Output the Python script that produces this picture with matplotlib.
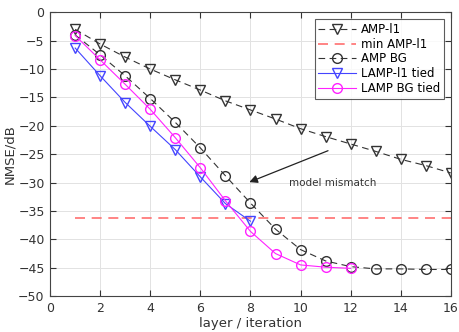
import matplotlib
matplotlib.use("Agg")
import matplotlib.pyplot as plt

amp_l1_x = list(range(1, 17))
amp_l1 = [-3.0, -5.6, -7.9, -10.0, -11.9, -13.7, -15.6, -17.2, -18.8, -20.5, -21.9, -23.2, -24.5, -25.9, -27.0, -28.3]
min_amp_l1_x = [1, 16]
min_amp_l1 = [-36.3, -36.3]
amp_bg_x = list(range(1, 17))
amp_bg = [-4.0, -7.5, -11.2, -15.2, -19.4, -23.9, -28.8, -33.6, -38.2, -41.8, -43.8, -44.8, -45.2, -45.2, -45.3, -45.3]
lamp_l1_x = list(range(1, 9))
lamp_l1 = [-6.3, -11.2, -15.9, -20.1, -24.2, -29.0, -33.7, -36.8]
lamp_bg_x = list(range(1, 13))
lamp_bg = [-4.1, -8.4, -12.7, -17.1, -22.1, -27.4, -33.2, -38.6, -42.5, -44.5, -44.9, -45.1]

plt.rcParams['font.family'] = ['DejaVu Sans']
fig = plt.figure(figsize=(4.6, 3.32), dpi=100)
ax = fig.add_axes([0.109, 0.108, 0.871, 0.855])

ms = 7
ax.plot(amp_l1_x, amp_l1, color='#333333', ls=(0, (6, 4)), lw=0.8, marker='v',
        mfc='none', mec='#333333', ms=ms, label='AMP-l1')
ax.plot(min_amp_l1_x, min_amp_l1, color='#ff7070', ls=(0, (6, 4)), lw=1.2, label='min AMP-l1')
ax.plot(amp_bg_x, amp_bg, color='#333333', ls=(0, (6, 4)), lw=0.8, marker='o',
        mfc='none', mec='#333333', ms=ms, label='AMP BG')
ax.plot(lamp_l1_x, lamp_l1, color='#4444ff', lw=0.8, marker='v',
        mfc='none', mec='#4444ff', ms=ms, label='LAMP-l1 tied')
ax.plot(lamp_bg_x, lamp_bg, color='#ff22ff', lw=0.8, marker='o',
        mfc='none', mec='#ff22ff', ms=ms, label='LAMP BG tied')

ax.set_xlim(0, 16)
ax.set_ylim(-50, 0)
ax.set_xticks(range(0, 17, 2))
ax.set_yticks(range(-50, 1, 5))
ax.grid(True, color='#e2e2e2', lw=0.7)
ax.set_axisbelow(True)
ax.tick_params(direction='in', labelsize=9, colors='#333333', top=True, right=True, length=4, pad=4)
for s in ax.spines.values():
    s.set_color('#444444')
    s.set_linewidth(0.8)
ax.set_xlabel('layer / iteration', fontsize=9.5, color='#333333', labelpad=2)
ax.set_ylabel('NMSE/dB', fontsize=9.5, color='#333333', labelpad=1)

ax.annotate('', xy=(7.85, -30.1), xytext=(11.2, -24.2),
            arrowprops=dict(arrowstyle='-|>', color='#222222', lw=0.9, mutation_scale=12))
ax.text(11.3, -30.1, 'model mismatch', fontsize=7.5, color='#333333', ha='center', va='center')

leg = ax.legend(loc='upper right', fontsize=8.5, frameon=True, fancybox=False,
                edgecolor='#333333', handlelength=3.2, borderpad=0.3, labelspacing=0.15,
                handletextpad=0.4, borderaxespad=0.6)
leg.get_frame().set_linewidth(0.8)

fig.savefig('out.png', dpi=100)
